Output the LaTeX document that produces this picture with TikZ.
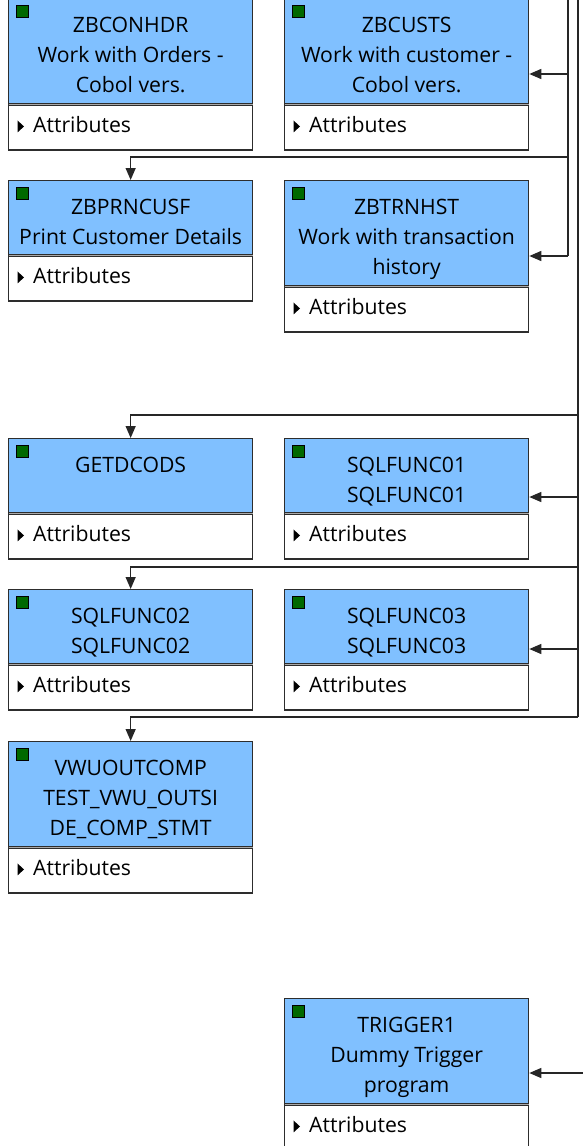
\documentclass[tikz,border=0pt]{standalone}
\usepackage{fontspec}
\setmainfont{Open Sans}
\usetikzlibrary{positioning,arrows.meta}
\definecolor{hdrblue}{RGB}{128,192,255}
\definecolor{ledgreen}{RGB}{0,105,0}
\definecolor{boxline}{RGB}{45,45,45}
\definecolor{sepgray}{RGB}{170,170,170}

\begin{document}
\begin{tikzpicture}[x=1pt,y=1pt,
    hdr/.style={draw=boxline, line width=1.3pt, fill=hdrblue, anchor=north west, minimum width=244pt, inner sep=0pt},
    attr/.style={draw=boxline, line width=1.3pt, fill=white, anchor=north west, minimum width=244pt, minimum height=45pt, inner sep=0pt},
    led/.style={draw=black, line width=0.7pt, fill=ledgreen, anchor=north west, minimum size=11.5pt, inner sep=0pt},
    ttl/.style={anchor=north, align=center, inner sep=0pt, font=\fontsize{21.2}{30}\selectfont, text=black},
    attrtxt/.style={anchor=west, inner sep=0pt, font=\fontsize{21.2}{30}\selectfont, text=black},
    conn/.style={draw=black!85, line width=1.3pt},
    >={Triangle[length=12pt,width=10pt]}]
  \useasboundingbox (0,0) rectangle (582,-1146);

  % program boxes
  \foreach \id/\x/\y/\h/\txt in {
      zbconhdr/8/2/105/{ZBCONHDR\\Work with Orders -\\Cobol vers.},
      zbcusts/284/2/105/{ZBCUSTS\\Work with customer -\\Cobol vers.},
      zbprncusf/8/-180/74/{ZBPRNCUSF\\Print Customer Details},
      zbtrnhst/284/-180/105/{ZBTRNHST\\Work with transaction\\history},
      getdcods/8/-438/74/{GETDCODS},
      sqlfunc01/284/-438/74/{SQLFUNC01\\SQLFUNC01},
      sqlfunc02/8/-589/74/{SQLFUNC02\\SQLFUNC02},
      sqlfunc03/284/-589/74/{SQLFUNC03\\SQLFUNC03},
      vwuoutcomp/8/-741/105/{VWUOUTCOMP\\TEST\_VWU\_OUTSI\\DE\_COMP\_STMT},
      trigger1/284/-998/105/{TRIGGER1\\Dummy Trigger\\program}} {
    \node[hdr, minimum height=\h pt] (\id) at (\x,\y) {};
    \node[led] at ([shift={(8pt,-7pt)}]\id.north west) {};
    \node[ttl] at ([yshift=-19pt]\id.north) {\txt};
    \node[attr] (\id-a) at (\id.south west) {};
    \draw[sepgray, line width=1.3pt] ([xshift=0.7pt]\id-a.north west) -- ([xshift=-0.7pt]\id-a.north east);
    \fill[black] ([shift={(9.5pt,7pt)}]\id-a.west) -- ++(0,-12) -- ++(6.5,6) -- cycle;
    \node[attrtxt] at ([shift={(25pt,2.5pt)}]\id-a.west) {Attributes};
  }

  % call lines
  \coordinate (busa) at (568,0);
  \coordinate (busb) at (578,0);
  \coordinate (ja1) at (568,-74);
  \coordinate (ja2) at (568,-157);
  \coordinate (ja3) at (568,-256);
  \coordinate (jb1) at (578,-415);
  \coordinate (jb2) at (578,-497);
  \coordinate (jb3) at (578,-567);
  \coordinate (jb4) at (578,-649);
  \coordinate (jb5) at (578,-717);
  \coordinate (trg) at (583,-1073);

  \draw[conn] (busa) -- (ja3);
  \draw[conn] (busb) -- (jb5);
  \draw[conn,->] (ja1) -- (ja1 -| zbcusts.east);
  \draw[conn,->] (ja2) -| (zbprncusf.north);
  \draw[conn,->] (ja3) -- (ja3 -| zbtrnhst.east);
  \draw[conn,->] (jb1) -| (getdcods.north);
  \draw[conn,->] (jb2) -- (jb2 -| sqlfunc01.east);
  \draw[conn,->] (jb3) -| (sqlfunc02.north);
  \draw[conn,->] (jb4) -- (jb4 -| sqlfunc03.east);
  \draw[conn,->] (jb5) -| (vwuoutcomp.north);
  \draw[conn,->] (trg) -- (trg -| trigger1.east);
\end{tikzpicture}
\end{document}
